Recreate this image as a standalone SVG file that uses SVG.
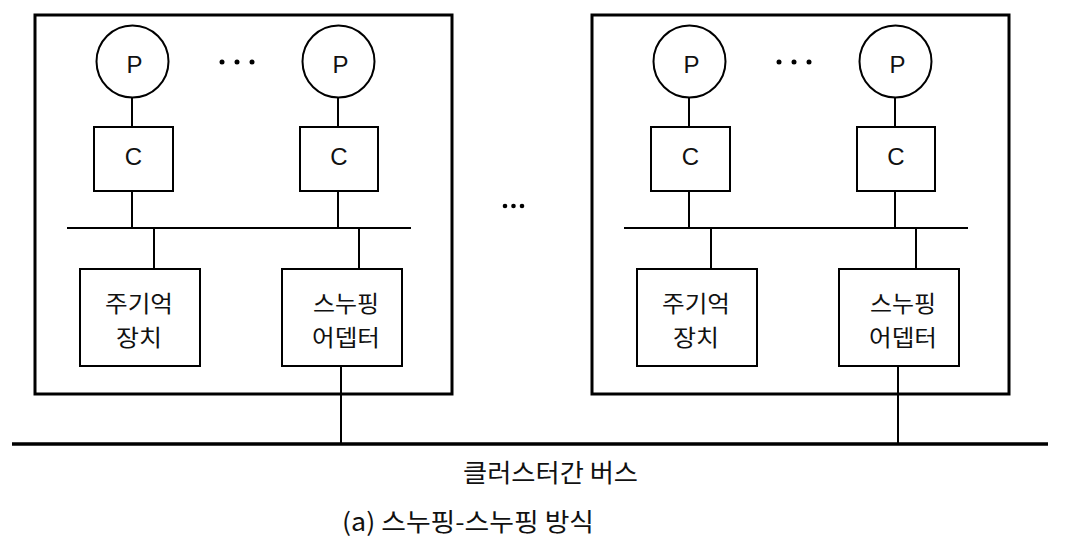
<svg xmlns="http://www.w3.org/2000/svg" width="1066" height="550" viewBox="0 0 1066 550">
<style>
.frame{fill:none;stroke:#000;stroke-width:3}
.node{fill:#fff;stroke:#000;stroke-width:2}
.ln{stroke:#000;stroke-width:2;fill:none}
.bus{stroke:#000;stroke-width:3.5;fill:none}
.t{font-family:"Liberation Sans","Noto Sans CJK KR",sans-serif;font-size:24px;fill:#111;text-anchor:middle}
.k{font-family:"Noto Sans CJK KR","Noto Sans",sans-serif;font-size:23px;fill:#111;text-anchor:middle}
.lb{font-family:"Noto Sans CJK KR","Noto Sans",sans-serif;font-size:25px;fill:#111}
.dot{fill:#000}
</style>
<rect width="1066" height="550" fill="#fff"/>
<g id="cluster1">
<rect class="frame" x="35" y="15" width="417" height="379"/>
</g>
<g id="cluster2">
<rect class="frame" x="592" y="15" width="417" height="379"/>
</g>
<g id="connectors">
<line class="bus" x1="12" y1="444" x2="1048" y2="444"/>
<line class="ln" x1="67" y1="228" x2="411" y2="228"/>
<line class="ln" x1="624" y1="228" x2="968" y2="228"/>
<line class="ln" x1="132" y1="98" x2="132" y2="127"/>
<line class="ln" x1="338" y1="98" x2="338" y2="127"/>
<line class="ln" x1="132" y1="191" x2="132" y2="228"/>
<line class="ln" x1="338" y1="191" x2="338" y2="228"/>
<line class="ln" x1="154" y1="228" x2="154" y2="269"/>
<line class="ln" x1="359" y1="228" x2="359" y2="269"/>
<line class="ln" x1="341" y1="366" x2="341" y2="444"/>
<line class="ln" x1="689" y1="98" x2="689" y2="127"/>
<line class="ln" x1="895" y1="98" x2="895" y2="127"/>
<line class="ln" x1="689" y1="191" x2="689" y2="228"/>
<line class="ln" x1="895" y1="191" x2="895" y2="228"/>
<line class="ln" x1="711" y1="228" x2="711" y2="269"/>
<line class="ln" x1="916" y1="228" x2="916" y2="269"/>
<line class="ln" x1="898" y1="366" x2="898" y2="444"/>
</g>
<g id="p1a"><circle class="node" cx="132.5" cy="61.5" r="36"/><text class="t" x="134.5" y="73">P</text></g>
<g id="p1b"><circle class="node" cx="338.5" cy="61.5" r="36"/><text class="t" x="340.5" y="73">P</text></g>
<g id="dots1"><circle class="dot" cx="222" cy="62" r="2.5"/><circle class="dot" cx="237" cy="62" r="2.5"/><circle class="dot" cx="252" cy="62" r="2.5"/></g>
<g id="c1a"><rect class="node" x="94" y="127" width="79" height="64"/><text class="t" x="133.5" y="164.5">C</text></g>
<g id="c1b"><rect class="node" x="300" y="127" width="78" height="64"/><text class="t" x="339" y="164.5">C</text></g>
<g id="mem1"><rect class="node" x="80" y="269" width="120" height="97"/><text class="k"><tspan x="139" y="312" textLength="68" lengthAdjust="spacingAndGlyphs">주기억</tspan><tspan x="139" y="346" textLength="46" lengthAdjust="spacingAndGlyphs">장치</tspan></text></g>
<g id="snoop1"><rect class="node" x="282" y="269" width="120" height="97"/><text class="k"><tspan x="346" y="312" textLength="66" lengthAdjust="spacingAndGlyphs">스누핑</tspan><tspan x="346" y="346" textLength="68" lengthAdjust="spacingAndGlyphs">어뎁터</tspan></text></g>
<g id="p2a"><circle class="node" cx="689.5" cy="61.5" r="36"/><text class="t" x="691.5" y="73">P</text></g>
<g id="p2b"><circle class="node" cx="895.5" cy="61.5" r="36"/><text class="t" x="897.5" y="73">P</text></g>
<g id="dots2"><circle class="dot" cx="779" cy="62" r="2.5"/><circle class="dot" cx="794" cy="62" r="2.5"/><circle class="dot" cx="809" cy="62" r="2.5"/></g>
<g id="c2a"><rect class="node" x="651" y="127" width="79" height="64"/><text class="t" x="690.5" y="164.5">C</text></g>
<g id="c2b"><rect class="node" x="857" y="127" width="78" height="64"/><text class="t" x="896" y="164.5">C</text></g>
<g id="mem2"><rect class="node" x="637" y="269" width="120" height="97"/><text class="k"><tspan x="696" y="312" textLength="68" lengthAdjust="spacingAndGlyphs">주기억</tspan><tspan x="696" y="346" textLength="46" lengthAdjust="spacingAndGlyphs">장치</tspan></text></g>
<g id="snoop2"><rect class="node" x="839" y="269" width="120" height="97"/><text class="k"><tspan x="903" y="312" textLength="66" lengthAdjust="spacingAndGlyphs">스누핑</tspan><tspan x="903" y="346" textLength="68" lengthAdjust="spacingAndGlyphs">어뎁터</tspan></text></g>
<g id="middots"><circle class="dot" cx="505" cy="206" r="2.3"/><circle class="dot" cx="513.5" cy="206" r="2.3"/><circle class="dot" cx="522" cy="206" r="2.3"/></g>
<g id="buslabel"><text class="lb" x="463" y="482" textLength="175" lengthAdjust="spacingAndGlyphs">클러스터간 버스</text></g>
<g id="caption"><text class="lb" x="342" y="531" textLength="252" lengthAdjust="spacingAndGlyphs">(a) 스누핑-스누핑 방식</text></g>
</svg>
